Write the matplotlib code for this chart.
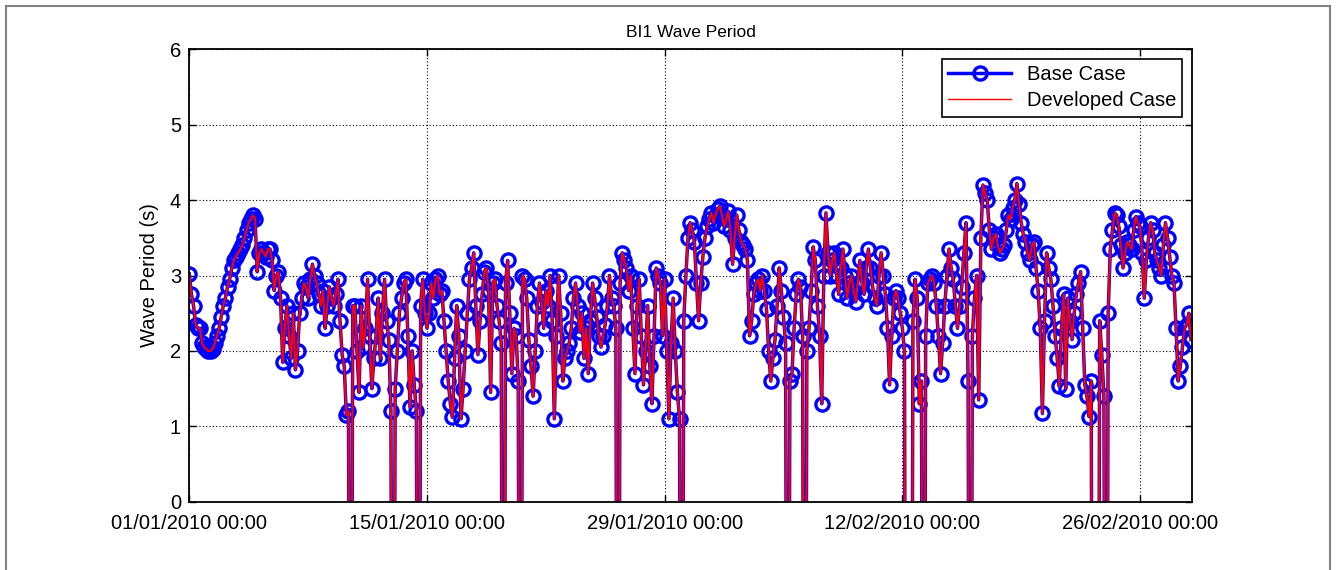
import matplotlib
matplotlib.use("Agg")
import matplotlib.pyplot as plt
import matplotlib.dates as mdates
import pandas as pd
from matplotlib.patches import Rectangle

plt.rcParams['font.family'] = ['Liberation Sans', 'DejaVu Sans']

# 3-hourly wave period (s), one row per day; -9 = missing value flag
week1 = [3.02, 2.75, 2.6, 2.35, 2.3, 2.3, 2.1, 2.05,
         2.02, 2.0, 2.0, 2.03, 2.1, 2.2, 2.3, 2.45,
         2.6, 2.7, 2.85, 2.95, 3.1, 3.2, 3.25, 3.3,
         3.35, 3.4, 3.5, 3.6, 3.7, 3.75, 3.8, 3.75,
         3.05, 3.3, 3.35, 3.3, 3.25, 3.35, 3.35, 3.2,
         2.8, 3.0, 3.05, 2.7, 1.85, 2.3, 2.6, 2.2,
         1.9, 2.5, 1.75, 2.0, 2.5, 2.7, 2.9, 2.85]
week2 = [2.7, 2.95, 3.15, 3.0, 2.9, 2.75, 2.6, 2.8,
         2.3, 2.6, 2.85, 2.7, 2.6, 2.75, 2.95, 2.4,
         1.95, 1.8, 1.15, 1.2, -9, 2.6, 2.6, 2.0,
         1.45, 2.6, 2.05, 2.3, 2.95, 2.2, 1.5, 1.9,
         2.2, 2.7, 1.9, 2.5, 2.95, 2.4, 2.15, 1.2,
         -9, 1.5, 2.0, 2.5, 2.7, 2.9, 2.95, 2.2,
         1.25, 2.0, 1.55, 1.2, -9, 2.6, 2.95, 2.5]
week3 = [2.3, 2.5, 2.9, 2.7, 2.95, 3.0, 2.75, 2.8,
         2.4, 2.0, 1.6, 1.3, 1.12, 1.9, 2.6, 2.2,
         1.1, 1.5, 2.0, 2.5, 2.95, 3.1, 3.3, 2.6,
         1.95, 2.4, 2.75, 3.05, 3.1, 2.8, 1.45, 2.9,
         2.95, 2.6, 2.4, 2.1, -9, 2.9, 3.2, 2.5,
         1.7, 2.3, 2.2, 1.6, -9, 3.0, 2.95, 2.7,
         2.15, 1.8, 1.4, 2.0, 2.6, 2.9, 2.65, 2.3]
week4 = [2.8, 2.6, 3.0, 2.4, 1.1, 2.2, 3.0, 2.5,
         1.6, 1.9, 2.0, 2.1, 2.3, 2.7, 2.9, 2.6,
         2.25, 2.5, 1.9, 2.3, 1.7, 2.4, 2.9, 2.7,
         2.45, 2.2, 2.05, 2.2, 2.35, 2.6, 3.0, 2.7,
         2.6, 2.3, -9, 2.9, 3.3, 3.2, 3.1, 2.8,
         3.0, 2.3, 1.7, 2.6, 2.95, 2.2, 1.55, 2.0,
         2.6, 1.8, 1.3, 2.2, 3.1, 3.0, 2.9, 2.2]
week5 = [2.95, 2.0, 1.1, 2.1, 2.7, 2.0, 1.45, 1.1,
         -9, 2.4, 3.0, 3.5, 3.7, 3.6, 3.45, 2.9,
         2.4, 2.9, 3.25, 3.5, 3.65, 3.75, 3.83, 3.7,
         3.8, 3.88, 3.92, 3.8, 3.65, 3.75, 3.85, 3.6,
         3.15, 3.5, 3.8, 3.6, 3.45, 3.4, 3.35, 3.2,
         2.2, 2.4, 2.75, 2.9, 2.95, 2.8, 3.0, 2.8,
         2.55, 2.0, 1.6, 1.9, 2.15, 2.6, 3.1, 2.8]
week6 = [2.45, 2.1, -9, 1.6, 1.7, 2.3, 2.75, 2.95,
         2.85, 2.2, -9, 2.0, 2.3, 2.8, 3.38, 3.2,
         2.6, 2.2, 1.3, 3.0, 3.83, 3.3, 3.0, 3.2,
         3.3, 3.0, 2.75, 3.1, 3.35, 3.0, 2.7, 2.9,
         3.0, 2.8, 2.65, 2.9, 3.2, 2.9, 2.75, 3.1,
         3.35, 3.1, 2.85, 2.7, 2.6, 3.0, 3.3, 3.0,
         2.75, 2.3, 1.55, 2.2, 2.7, 2.8, 2.7, 2.5]
week7 = [2.3, 2.0, -9, -9, -9, 2.4, 2.95, 2.7,
         1.3, 1.6, -9, 2.2, 2.9, 2.95, 3.0, 2.9,
         2.6, 2.2, 1.7, 2.1, 2.6, 3.0, 3.35, 3.1,
         2.95, 2.6, 2.3, 2.6, 2.85, 3.3, 3.7, 1.6,
         -9, 2.2, 2.7, 3.0, 1.35, 3.5, 4.2, 4.1,
         4.0, 3.6, 3.35, 3.5, 3.55, 3.4, 3.3, 3.35,
         3.4, 3.6, 3.8, 3.75, 3.9, 4.0, 4.22, 3.95]
week8 = [3.7, 3.55, 3.45, 3.3, 3.2, 3.4, 3.45, 3.1,
         2.8, 2.3, 1.17, 2.4, 3.3, 3.1, 2.95, 2.6,
         2.2, 1.9, 1.53, 2.3, 2.75, 1.5, 2.7, 2.4,
         2.15, 2.5, 2.75, 2.9, 3.05, 2.3, 1.55, 1.4,
         1.13, 1.6, -9, -9, -9, 2.4, 1.95, 1.4,
         -9, 2.5, 3.35, 3.6, 3.83, 3.8, 3.65, 3.4,
         3.1, 3.3, 3.45, 3.4, 3.35, 3.6, 3.78, 3.7]
week9 = [3.65, 3.3, 2.7, 3.2, 3.5, 3.7, 3.6, 3.3,
         3.2, 3.1, 3.0, 3.4, 3.7, 3.5, 3.25, 3.0,
         2.9, 2.3, 1.6, 1.8, 2.05, 2.3, 2.35, 2.5,
         2.15]

base_case = week1 + week2 + week3 + week4 + week5 + week6 + week7 + week8 + week9
developed_case = list(base_case)  # the two runs are indistinguishable on the chart

times = pd.date_range('2010-01-01 00:00', periods=len(base_case), freq='3h')
tick_dates = pd.to_datetime(['2010-01-01', '2010-01-15', '2010-01-29', '2010-02-12', '2010-02-26'])

fig = plt.figure(figsize=(13.37, 5.70), dpi=100)
ax = fig.add_axes([0.1416, 0.1198, 0.7502, 0.7937])

ax.plot(times, base_case, color='#0000ff', lw=2.5, marker='o', ms=9.5,
        mfc='none', mec='#0000ff', mew=2.4, label='Base Case')
ax.plot(times, developed_case, color='#ff0000', lw=1.5, label='Developed Case')

ax.set_ylim(0, 6)
ax.set_xlim(pd.Timestamp('2010-01-01 00:00'), pd.Timestamp('2010-03-01 02:00'))
ax.set_xticks(tick_dates)
ax.xaxis.set_major_formatter(mdates.DateFormatter('%d/%m/%Y %H:%M'))
ax.set_yticks(range(0, 7))

ax.grid(True, color='black', linestyle=(0, (1, 2)), lw=0.8)
ax.tick_params(direction='in', length=5, width=1, top=True, right=True,
               labelsize=14.5)
ax.tick_params(axis='x', pad=9)
ax.tick_params(axis='y', pad=6)
for s in ax.spines.values():
    s.set_linewidth(1.3)

ax.set_title('BI1 Wave Period', fontsize=12.5, pad=9)
ax.set_ylabel('Wave Period (s)', fontsize=14.5, labelpad=8)

leg = ax.legend(loc='upper right', fontsize=14.5, fancybox=False, framealpha=1,
                edgecolor='black', handlelength=3.1, borderaxespad=0.5,
                labelspacing=0.35, borderpad=0.3)
leg.get_frame().set_linewidth(1.2)
leg.legend_handles[1].set_linewidth(1.0)

# grey frame around the whole figure
fig.patches.append(Rectangle((6 / 1337, -0.05), 1324 / 1337, 1.05 - 6 / 570,
                             transform=fig.transFigure, fill=False,
                             edgecolor='#808080', lw=1.5))

fig.savefig('out.png', dpi=100)
